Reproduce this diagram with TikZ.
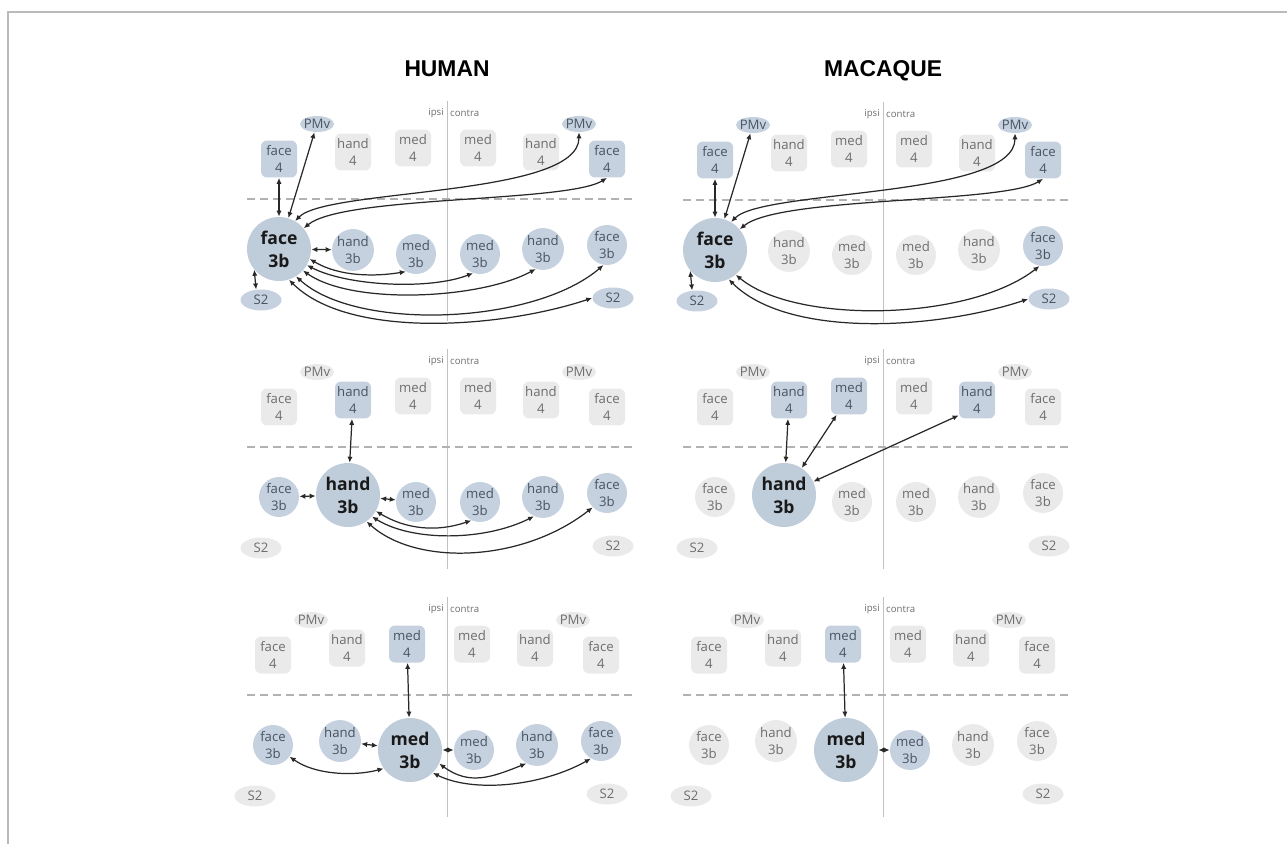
\documentclass[tikz,border=0pt]{standalone}
\usepackage{fontspec}
\setmainfont{Open Sans}
\newfontfamily\headfont{Liberation Sans}
\usetikzlibrary{arrows.meta,shapes.geometric}
\definecolor{hiblue}{RGB}{197,209,222}
\definecolor{bigblue}{RGB}{191,204,218}
\definecolor{logray}{RGB}{234,234,234}
\definecolor{lotext}{RGB}{110,110,110}
\definecolor{hitext}{RGB}{72,84,98}
\definecolor{framegray}{RGB}{186,186,186}
\definecolor{rulegray}{RGB}{178,178,178}
\definecolor{linkgray}{RGB}{40,40,40}

\tikzset{
  cellbase/.style={inner sep=0pt, align=center, font=\fontsize{7.5}{10}\selectfont},
  box4/.style={cellbase, rounded corners=1.2mm, minimum width=7.2mm, minimum height=7.4mm},
  dot3b/.style={cellbase, circle, minimum size=8mm},
  pmvoval/.style={cellbase, ellipse, inner xsep=-1.5pt, inner ysep=-0.5pt,
                  minimum width=6.8mm, minimum height=3.2mm},
  s2oval/.style={cellbase, ellipse, minimum width=8.2mm, minimum height=4.2mm},
  grayfill/.style={fill=logray, text=lotext},
  bluefill/.style={fill=hiblue, text=hitext},
  lo4/.style={box4, grayfill}, hi4/.style={box4, bluefill},
  lo3b/.style={dot3b, grayfill}, hi3b/.style={dot3b, bluefill},
  lopmv/.style={pmvoval, grayfill}, hipmv/.style={pmvoval, bluefill},
  los2/.style={s2oval, grayfill}, his2/.style={s2oval, bluefill},
  big3b/.style={cellbase, circle, minimum size=12.8mm, fill=bigblue, text=black!90,
                font=\bfseries\fontsize{10}{13}\selectfont},
  % default looks, changed per panel
  pmv look/.style=lopmv, pmvc look/.style=lopmv,
  f4 look/.style=lo4, h4 look/.style=lo4, m4 look/.style=lo4,
  m4c look/.style=lo4, h4c look/.style=lo4, f4c look/.style=lo4,
  f3b look/.style=lo3b, h3b look/.style=lo3b, m3b look/.style=lo3b,
  m3bc look/.style=lo3b, h3bc look/.style=lo3b, f3bc look/.style=lo3b,
  s2 look/.style=los2, s2c look/.style=los2,
  link/.style={{Latex[length=1.2mm,width=1.05mm]}-{Latex[length=1.2mm,width=1.05mm]},
               draw=linkgray, line width=0.7pt},
  sideline/.style={draw=rulegray!80, line width=0.5pt},
  gapline/.style={draw=rulegray, line width=1pt, dash pattern=on 1.6mm off 1mm},
  sidelab/.style={inner sep=0.5pt, text=lotext, font=\fontsize{5.5}{6}\selectfont},
  headlab/.style={anchor=base, font=\headfont\bfseries\fontsize{13}{15}\selectfont}
}

\newcommand{\areamap}{%
  \node[pmv look]  (pmv)  at (-130,-75) {PMv};
  \node[pmvc look] (pmvc) at (132,-75)  {PMv};
  \node[f4 look]   (f4)   at (-168,-40) {face\\4};
  \node[h4 look]   (h4)   at (-94,-47)  {hand\\4};
  \node[m4 look]   (m4)   at (-34,-51)  {med\\4};
  \node[m4c look]  (m4c)  at (31,-51)   {med\\4};
  \node[h4c look]  (h4c)  at (94,-47)   {hand\\4};
  \node[f4c look]  (f4c)  at (160,-40)  {face\\4};
  \node[f3b look]  (f3b)  at (-168,50)  {face\\3b};
  \node[h3b look]  (h3b)  at (-94,51)   {hand\\3b};
  \node[m3b look]  (m3b)  at (-31,55)   {med\\3b};
  \node[m3bc look] (m3bc) at (33,55)    {med\\3b};
  \node[h3bc look] (h3bc) at (96,50)    {hand\\3b};
  \node[f3bc look] (f3bc) at (160,46)   {face\\3b};
  \node[s2 look]   (s2)   at (-186,101) {S2};
  \node[s2c look]  (s2c)  at (166,99)   {S2};
}
\newcommand{\midlines}{%
  \draw[sideline] (0,-98) -- (0,122);
  \draw[gapline] (-200,0) -- (185,0);
  \node[sidelab, anchor=east] (ipsi) at (-2,-86) {ipsi};
  \node[sidelab, anchor=west] (contra) at (2,-86) {contra};
}

\begin{document}
\begin{tikzpicture}[x=0.02cm, y=-0.02cm]
\useasboundingbox (0,0) rectangle (1287,844);
\draw[framegray, line width=1.1pt] (8,844) -- (8,12) -- (1287,12);

\node[headlab] (human) at (447,77) {HUMAN};
\node[headlab] (macaque) at (883,77) {MACAQUE};

% face 3b, human
\begin{scope}[shift={(447,199)}, name prefix=h1-,
  f4 look/.style=hi4, f4c look/.style=hi4, pmv look/.style=hipmv, pmvc look/.style=hipmv,
  f3b look/.style=big3b, h3b look/.style=hi3b, m3b look/.style=hi3b,
  m3bc look/.style=hi3b, h3bc look/.style=hi3b, f3bc look/.style=hi3b,
  s2 look/.style=his2, s2c look/.style=his2]
\midlines
\areamap
\draw[link] (f4) -- (f3b);
\draw[link] (pmv) -- (f3b);
\draw[link] (f3b.60) .. controls +(32,-33) and +(0,65) .. (pmvc.south);
\draw[link] (f3b.40) .. controls +(40,-33) and +(-40,25) .. (f4c.south);
\draw[link] (f3b) -- (h3b);
\draw[link] (f3b.-18) .. controls +(30,18) and +(-30,5) .. (m3b.-120);
\draw[link] (f3b.-30) .. controls +(40,21) and +(-43,17) .. (m3bc.-110);
\draw[link] (f3b.-42) .. controls +(50,35) and +(-55,30) .. (h3bc.-110);
\draw[link] (f3b.-58) .. controls +(60,55) and +(-70,60) .. (f3bc.-100);
\draw[link] (f3b.-72) .. controls +(60,60) and +(-90,30) .. (s2c.west);
\draw[link] (s2.115) -- (f3b.-140);
\end{scope}

% face 3b, macaque
\begin{scope}[shift={(883,200)}, name prefix=m1-,
  f4 look/.style=hi4, f4c look/.style=hi4, pmv look/.style=hipmv, pmvc look/.style=hipmv,
  f3b look/.style=big3b, f3bc look/.style=hi3b,
  s2 look/.style=his2, s2c look/.style=his2]
\midlines
\areamap
\draw[link] (f4) -- (f3b);
\draw[link] (pmv) -- (f3b);
\draw[link] (f3b.60) .. controls +(32,-33) and +(0,65) .. (pmvc.south);
\draw[link] (f3b.40) .. controls +(40,-33) and +(-40,25) .. (f4c.south);
\draw[link] (f3b.-50) .. controls +(60,50) and +(-70,55) .. (f3bc.-100);
\draw[link] (f3b.-65) .. controls +(60,60) and +(-90,30) .. (s2c.west);
\draw[link] (s2.115) -- (f3b.-140);
\end{scope}

% hand 3b, human
\begin{scope}[shift={(447,447)}, name prefix=h2-,
  h4 look/.style=hi4,
  h3b look/.style={big3b, xshift=-1mm, yshift=0.6mm}, f3b look/.style=hi3b,
  m3b look/.style=hi3b, m3bc look/.style=hi3b, h3bc look/.style=hi3b, f3bc look/.style=hi3b]
\midlines
\areamap
\draw[link] (h4) -- (h3b);
\draw[link] (f3b) -- (h3b);
\draw[link] (h3b) -- (m3b);
\draw[link] (h3b.-30) .. controls +(30,18) and +(-35,12) .. (m3bc.-115);
\draw[link] (h3b.-42) .. controls +(40,25) and +(-50,25) .. (h3bc.-115);
\draw[link] (h3b.-55) .. controls +(50,45) and +(-70,55) .. (f3bc.-135);
\end{scope}

% hand 3b, macaque
\begin{scope}[shift={(883,447)}, name prefix=m2-,
  h4 look/.style=hi4, m4 look/.style=hi4, h4c look/.style=hi4,
  h3b look/.style={big3b, xshift=-1mm, yshift=0.6mm}]
\midlines
\areamap
\draw[link] (h4) -- (h3b);
\draw[link] (h3b) -- (m4);
\draw[link] (h3b) -- (h4c.-140);
\end{scope}

% med 3b, human
\begin{scope}[shift={(447,695)}, name prefix=h3-]
\midlines
\begin{scope}[xshift=-1.2mm,
  m4 look/.style=hi4, m3b look/.style=big3b,
  h3b look/.style={hi3b, xshift=-1.4mm, yshift=1mm}, f3b look/.style=hi3b,
  m3bc look/.style=hi3b, h3bc look/.style=hi3b, f3bc look/.style=hi3b]
\areamap
\draw[link] (m4) -- (m3b);
\draw[link] (h3b) -- (m3b);
\draw[link] (m3b) -- (m3bc);
\draw[link] (m3b.-145) .. controls +(-30,8) and +(25,18) .. (f3b.-35);
\draw[link] (m3b.-25) .. controls +(30,22) and +(-35,14) .. (h3bc.-120);
\draw[link] (m3b.-45) .. controls +(40,20) and +(-50,28) .. (f3bc.-120);
\end{scope}
\end{scope}

% med 3b, macaque
\begin{scope}[shift={(883,695)}, name prefix=m3-]
\midlines
\begin{scope}[xshift=-1.2mm,
  m4 look/.style=hi4, m3b look/.style=big3b,
  h3b look/.style={lo3b, xshift=-1.4mm, yshift=1mm}, m3bc look/.style=hi3b]
\areamap
\draw[link] (m4) -- (m3b);
\draw[link] (m3b) -- (m3bc);
\end{scope}
\end{scope}
\end{tikzpicture}
\end{document}
